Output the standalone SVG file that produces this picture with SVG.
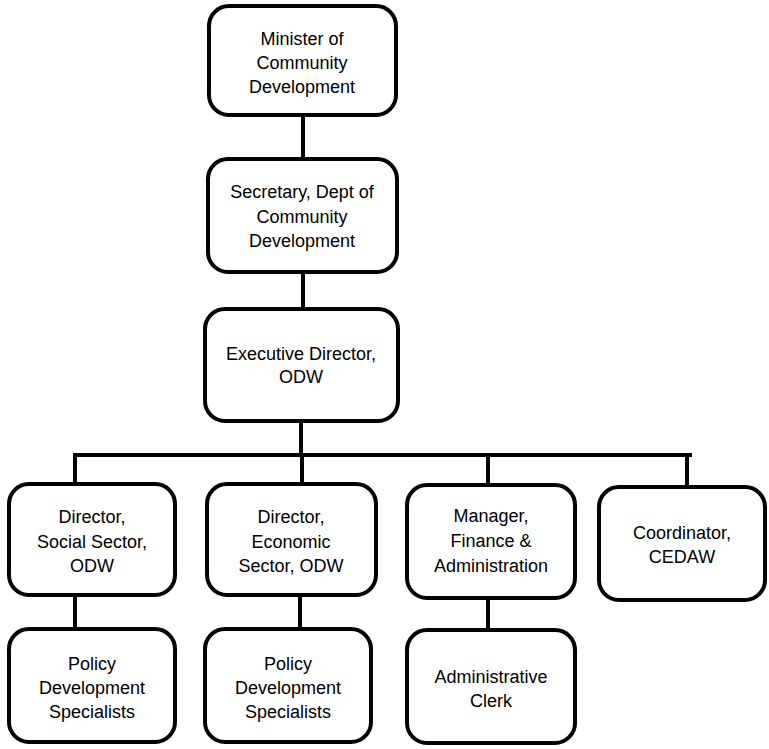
<svg xmlns="http://www.w3.org/2000/svg" width="769" height="749" viewBox="0 0 769 749">
<style>
.box{fill:#fff;stroke:#000;stroke-width:4}
.ln{stroke:#000;stroke-width:4;fill:none}
text{font-family:"Liberation Sans",Arial,sans-serif;font-size:18px;fill:#000;text-anchor:middle}
</style>
<rect width="769" height="749" fill="#fff"/>
<g id="connectors">
<line class="ln" x1="303" y1="115" x2="303" y2="159"/>
<line class="ln" x1="303" y1="272" x2="303" y2="309"/>
<line class="ln" x1="301" y1="421" x2="301" y2="455"/>
<line class="ln" x1="73" y1="455" x2="692" y2="455"/>
<line class="ln" x1="75" y1="453" x2="75" y2="484"/>
<line class="ln" x1="302" y1="453" x2="302" y2="484"/>
<line class="ln" x1="488" y1="453" x2="488" y2="485"/>
<line class="ln" x1="687" y1="453" x2="687" y2="487"/>
<line class="ln" x1="75" y1="595" x2="75" y2="629"/>
<line class="ln" x1="300" y1="595" x2="300" y2="629"/>
<line class="ln" x1="488" y1="598" x2="488" y2="630"/>
</g>
<g id="minister">
<rect class="box" x="209" y="6" width="187" height="109" rx="20"/>
<text x="302" y="45">Minister of</text>
<text x="302" y="69">Community</text>
<text x="302" y="93">Development</text>
</g>
<g id="secretary">
<rect class="box" x="208" y="159" width="189" height="113" rx="20"/>
<text x="302" y="198">Secretary, Dept of</text>
<text x="302" y="223">Community</text>
<text x="302" y="247">Development</text>
</g>
<g id="executive">
<rect class="box" x="205" y="309" width="193" height="112" rx="20"/>
<text x="301" y="360">Executive Director,</text>
<text x="301" y="383">ODW</text>
</g>
<g id="dir-social">
<rect class="box" x="9" y="484" width="166" height="111" rx="20"/>
<text x="92" y="523">Director,</text>
<text x="92" y="548">Social Sector,</text>
<text x="92" y="572">ODW</text>
</g>
<g id="dir-economic">
<rect class="box" x="207" y="484" width="169" height="111" rx="20"/>
<text x="291" y="523">Director,</text>
<text x="291" y="548">Economic</text>
<text x="291" y="572">Sector, ODW</text>
</g>
<g id="manager">
<rect class="box" x="407" y="485" width="168" height="113" rx="20"/>
<text x="491" y="522">Manager,</text>
<text x="491" y="547">Finance &amp;</text>
<text x="491" y="572">Administration</text>
</g>
<g id="coordinator">
<rect class="box" x="599" y="487" width="166" height="113" rx="20"/>
<text x="682" y="539">Coordinator,</text>
<text x="682" y="563">CEDAW</text>
</g>
<g id="policy-social">
<rect class="box" x="9" y="629" width="166" height="113" rx="20"/>
<text x="92" y="670">Policy</text>
<text x="92" y="694">Development</text>
<text x="92" y="718">Specialists</text>
</g>
<g id="policy-economic">
<rect class="box" x="205" y="629" width="166" height="113" rx="20"/>
<text x="288" y="670">Policy</text>
<text x="288" y="694">Development</text>
<text x="288" y="718">Specialists</text>
</g>
<g id="admin-clerk">
<rect class="box" x="407" y="630" width="168" height="113" rx="20"/>
<text x="491" y="683">Administrative</text>
<text x="491" y="707">Clerk</text>
</g>
</svg>
